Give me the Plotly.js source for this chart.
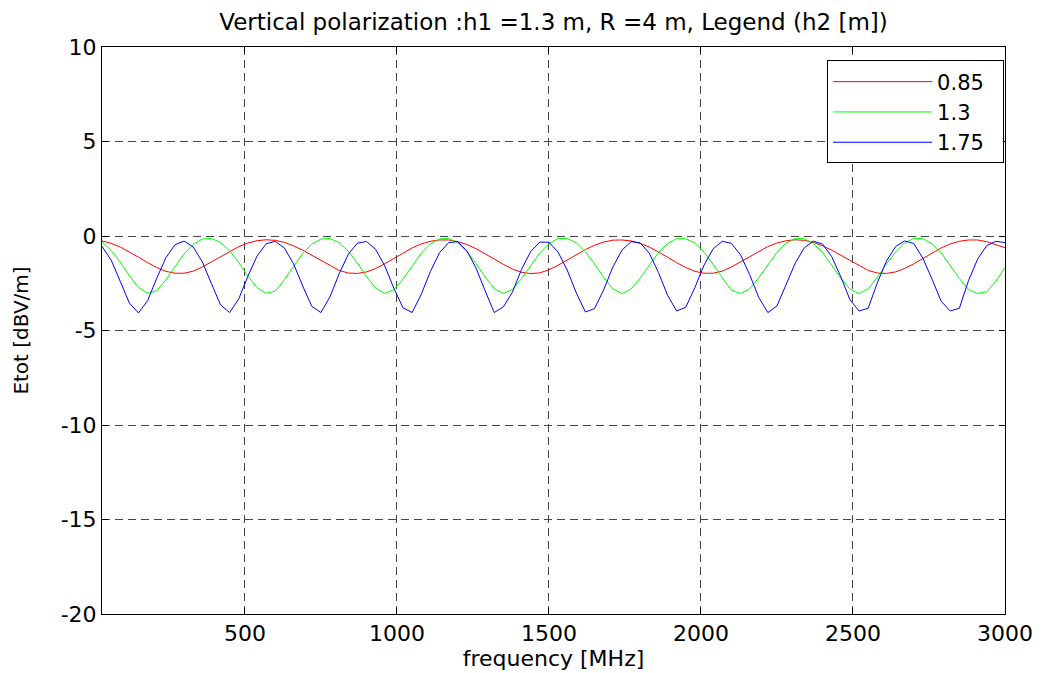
<!DOCTYPE html>
<html>
<head>
<meta charset="utf-8">
<script src="https://cdn.plot.ly/plotly-3.0.1.min.js"></script>
<style>
  html, body { margin: 0; padding: 0; background: #ffffff; }
  #chart { width: 1044px; height: 673px; }
</style>
</head>
<body>
<div id="chart"></div>
<script>
// Frequency samples [MHz]
const freq = [30,60,90,120,150,180,210,240,270,300,
  330,360,390,420,450,480,510,540,570,600,
  630,660,690,720,750,780,810,840,870,900,
  930,960,990,1020,1050,1080,1110,1140,1170,1200,
  1230,1260,1290,1320,1350,1380,1410,1440,1470,1500,
  1530,1560,1590,1620,1650,1680,1710,1740,1770,1800,
  1830,1860,1890,1920,1950,1980,2010,2040,2070,2100,
  2130,2160,2190,2220,2250,2280,2310,2340,2370,2400,
  2430,2460,2490,2520,2550,2580,2610,2640,2670,2700,
  2730,2760,2790,2820,2850,2880,2910,2940,2970,3000];

// Legend labels (h2 [m])
const seriesNames = ["0.85", "1.3", "1.75"];

// Etot [dBV/m] for h2 = 0.85 m
const etot085 = [-0.26,-0.39,-0.58,-0.84,-1.12,-1.41,-1.67,-1.87,-1.97,-1.97,
  -1.86,-1.64,-1.37,-1.08,-0.80,-0.56,-0.37,-0.25,-0.20,-0.23,
  -0.34,-0.52,-0.75,-1.02,-1.31,-1.59,-1.82,-1.96,-1.98,-1.90,
  -1.72,-1.47,-1.18,-0.89,-0.63,-0.42,-0.28,-0.21,-0.21,-0.30,
  -0.45,-0.67,-0.93,-1.22,-1.50,-1.75,-1.92,-1.99,-1.95,-1.79,
  -1.55,-1.28,-0.98,-0.72,-0.49,-0.32,-0.22,-0.21,-0.26,-0.39,
  -0.58,-0.84,-1.12,-1.41,-1.67,-1.87,-1.97,-1.97,-1.86,-1.64,
  -1.37,-1.08,-0.80,-0.56,-0.37,-0.25,-0.20,-0.23,-0.34,-0.52,
  -0.75,-1.02,-1.31,-1.59,-1.82,-1.96,-1.98,-1.90,-1.72,-1.47,
  -1.18,-0.89,-0.63,-0.42,-0.28,-0.21,-0.21,-0.30,-0.45,-0.62];

// Etot [dBV/m] for h2 = 1.3 m
const etot130 = [-0.30,-0.76,-1.38,-2.10,-2.72,-3.03,-2.90,-2.32,-1.62,-0.95,
  -0.44,-0.16,-0.13,-0.34,-0.78,-1.41,-2.12,-2.74,-3.03,-2.92,
  -2.30,-1.59,-0.93,-0.43,-0.16,-0.13,-0.35,-0.80,-1.43,-2.14,
  -2.76,-3.04,-2.84,-2.28,-1.56,-0.91,-0.42,-0.15,-0.13,-0.36,
  -0.82,-1.45,-2.17,-2.78,-3.04,-2.83,-2.25,-1.54,-0.89,-0.41,
  -0.14,-0.13,-0.37,-0.84,-1.48,-2.19,-2.79,-3.05,-2.81,-2.23,
  -1.52,-0.88,-0.40,-0.14,-0.14,-0.38,-0.86,-1.50,-2.21,-2.86,
  -3.05,-2.80,-2.21,-1.50,-0.86,-0.38,-0.14,-0.14,-0.40,-0.87,
  -1.52,-2.23,-2.81,-3.05,-2.79,-2.19,-1.48,-0.84,-0.37,-0.13,
  -0.14,-0.41,-0.89,-1.54,-2.25,-2.83,-3.04,-2.95,-2.40,-1.65];

// Etot [dBV/m] for h2 = 1.75 m
const etot175 = [-0.55,-1.27,-2.40,-3.55,-4.07,-3.42,-2.24,-1.15,-0.46,-0.27,
  -0.58,-1.37,-2.52,-3.65,-4.05,-3.32,-2.12,-1.06,-0.41,-0.28,
  -0.64,-1.47,-2.64,-3.72,-4.05,-3.21,-2.00,-0.97,-0.38,-0.29,
  -0.71,-1.58,-2.77,-3.80,-4.05,-3.09,-1.88,-0.89,-0.35,-0.30,
  -0.78,-1.69,-2.89,-4.05,-3.75,-2.97,-1.76,-0.82,-0.32,-0.33,
  -0.85,-1.80,-3.01,-4.02,-3.84,-2.85,-1.65,-0.75,-0.30,-0.36,
  -0.91,-1.92,-3.13,-3.97,-3.77,-2.73,-1.54,-0.68,-0.28,-0.39,
  -0.99,-2.04,-3.25,-4.05,-3.70,-2.60,-1.44,-0.62,-0.27,-0.43,
  -1.09,-2.16,-3.37,-3.97,-3.82,-2.48,-1.33,-0.56,-0.26,-0.40,
  -1.18,-2.28,-3.45,-3.97,-3.82,-2.36,-1.22,-0.51,-0.28,-0.35];

const seriesValues = [etot085, etot130, etot175];
const seriesColors = ["#ff0000", "#00ff00", "#0000ff"];

const xTicks = [500, 1000, 1500, 2000, 2500, 3000];
const yTicks = [-20, -15, -10, -5, 0, 5, 10];

const FONT = "DejaVu Sans, Liberation Sans, Arial, sans-serif";

const traces = seriesValues.map((vals, i) => ({
  type: "scatter",
  mode: "lines",
  x: freq,
  y: vals,
  // trailing no-break spaces give the legend box its right padding
  name: seriesNames[i] + "\u00a0\u00a0",
  line: { color: seriesColors[i], width: 1 },
  hoverinfo: "x+y+name"
}));

const axisCommon = {
  showline: true,
  linecolor: "#000000",
  linewidth: 1,
  mirror: "ticks",
  ticks: "inside",
  ticklen: 6,
  tickwidth: 1,
  tickcolor: "#000000",
  showgrid: true,
  gridcolor: "#444444",
  gridwidth: 1,
  griddash: "8px,5px",
  zeroline: false,
  tickfont: { family: FONT, size: 22, color: "#000000" }
};

const layout = {
  width: 1044,
  height: 673,
  margin: { l: 102, r: 39, t: 47, b: 59 },
  paper_bgcolor: "#ffffff",
  plot_bgcolor: "#ffffff",
  font: { family: FONT, size: 22, color: "#000000" },
  title: {
    text: "Vertical polarization :h1 =1.3 m, R =4 m, Legend (h2 [m])",
    font: { family: FONT, size: 23, color: "#000000" },
    x: 0.5, xref: "paper", xanchor: "center",
    y: 0.967, yref: "container", yanchor: "middle"
  },
  xaxis: Object.assign({}, axisCommon, {
    range: [30, 3000],
    tickmode: "array",
    tickvals: xTicks,
    ticktext: xTicks.map(String),
    title: { text: "frequency [MHz]", font: { family: FONT, size: 22, color: "#000000" }, standoff: 4 }
  }),
  yaxis: Object.assign({}, axisCommon, {
    range: [-20, 10],
    tickmode: "array",
    tickvals: yTicks,
    ticktext: yTicks.map(String),
    title: { text: "Etot [dBV/m]", font: { family: FONT, size: 20, color: "#000000" }, standoff: 26 }
  }),
  showlegend: true,
  legend: {
    x: 0.999, xanchor: "right", xref: "paper",
    y: 0.9762, yanchor: "top", yref: "paper",
    bgcolor: "#ffffff",
    bordercolor: "#000000",
    borderwidth: 1,
    font: { family: FONT, size: 21, color: "#000000" },
    itemwidth: 99,
    tracegroupgap: 0
  }
};

Plotly.newPlot("chart", traces, layout, { displayModeBar: false, staticPlot: true });
</script>
</body>
</html>
